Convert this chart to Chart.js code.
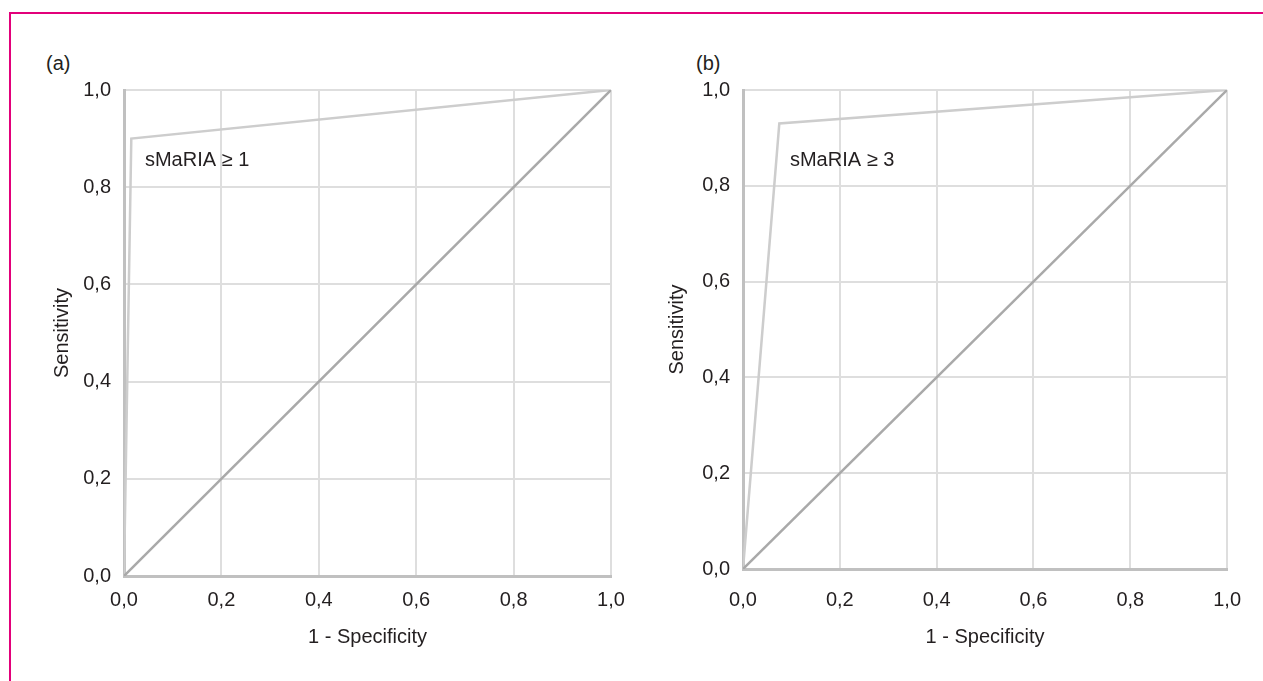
<!DOCTYPE html>
<html>
<head>
<meta charset="utf-8">
<script src="https://cdn.jsdelivr.net/npm/chart.js@4.4.1/dist/chart.umd.min.js"></script>
<style>
  html, body { margin: 0; padding: 0; background: #fff; }
  body { width: 1263px; height: 681px; position: relative; overflow: hidden; font-family: "Liberation Sans", Arial, Helvetica, sans-serif; color: #231f20; }
  .frame { position: absolute; left: 9px; top: 12px; width: 1300px; height: 700px; border-top: 2px solid #e2007a; border-left: 2px solid #e2007a; }
  .panel-label { position: absolute; font-size: 20px; }
  canvas { position: absolute; }
</style>
</head>
<body>
<div class="frame"></div>
<div class="panel-label" style="left:46px; top:52px;">(a)</div>
<div class="panel-label" style="left:696px; top:52px;">(b)</div>
<canvas id="chartA" width="620" height="600" style="left:20px; top:65px;"></canvas>
<canvas id="chartB" width="610" height="600" style="left:650px; top:65px;"></canvas>
<script>
// axis ticks (both panels)
const tickValues = [0, 0.2, 0.4, 0.6, 0.8, 1.0]

// panel (a): sMaRIA >= 1
const rocA_x = [0, 0.015, 1]
const rocA_y = [0, 0.90, 1]
const labelA = 'sMaRIA \u2265 1'

// panel (b): sMaRIA >= 3
const rocB_x = [0, 0.075, 1]
const rocB_y = [0, 0.93, 1]
const labelB = 'sMaRIA \u2265 3'

// reference line
const diag_x = [0, 1]
const diag_y = [0, 1]

const FONT = '"Liberation Sans", Arial, Helvetica, sans-serif'
const TEXT = '#231f20'
const SIZE = 20

function toPoints(xs, ys) {
  return xs.map((x, i) => ({ x: x, y: ys[i] }))
}

function fmt(v) {
  return v.toFixed(1).replace('.', ',')
}

// draws the cut-off label inside the plot
const cutoffLabel = {
  id: 'cutoffLabel',
  afterDatasetsDraw(chart, args, opts) {
    const ctx = chart.ctx
    const x = chart.scales.x.getPixelForValue(opts.x)
    const y = chart.scales.y.getPixelForValue(opts.y)
    ctx.save()
    ctx.font = SIZE + 'px ' + FONT
    ctx.fillStyle = TEXT
    ctx.textAlign = 'left'
    ctx.textBaseline = 'middle'
    ctx.fillText(opts.text, x, y)
    ctx.restore()
  }
}

function makeChart(id, rx, ry, cfg) {
  const ctx = document.getElementById(id)
  return new Chart(ctx, {
    type: 'line',
    data: {
      datasets: [
        {
          data: toPoints(diag_x, diag_y),
          borderColor: '#a9a9a9',
          borderWidth: 2.5,
          pointRadius: 0,
          tension: 0
        },
        {
          data: toPoints(rx, ry),
          borderColor: '#cdcdcd',
          borderWidth: 2.5,
          pointRadius: 0,
          tension: 0
        }
      ]
    },
    options: {
      responsive: false,
      animation: false,
      devicePixelRatio: 1,
      layout: { padding: { left: 0, top: 10, right: cfg.padRight, bottom: 0 } },
      plugins: {
        legend: { display: false },
        tooltip: { enabled: false },
        cutoffLabel: cfg.label
      },
      scales: {
        x: {
          type: 'linear',
          min: 0,
          max: 1,
          afterFit: s => { s.height = cfg.xHeight },
          afterBuildTicks: s => { s.ticks = tickValues.map(v => ({ value: v })) },
          ticks: {
            callback: v => fmt(v),
            color: TEXT,
            padding: cfg.xTickPad,
            maxRotation: 0,
            font: { family: FONT, size: SIZE }
          },
          grid: { color: '#dedede', lineWidth: 2, drawTicks: false },
          border: { color: '#c0c0c0', width: 3 },
          title: {
            display: true,
            text: '1 - Specificity',
            color: TEXT,
            font: { family: FONT, size: SIZE },
            padding: { top: 0, bottom: 16 }
          }
        },
        y: {
          type: 'linear',
          min: 0,
          max: 1,
          afterFit: s => { s.width = cfg.yWidth },
          afterBuildTicks: s => { s.ticks = tickValues.map(v => ({ value: v })) },
          ticks: {
            callback: v => fmt(v),
            color: TEXT,
            padding: 13,
            font: { family: FONT, size: SIZE }
          },
          grid: { color: '#dedede', lineWidth: 2, drawTicks: false },
          border: { color: '#c0c0c0', width: 3 },
          title: {
            display: true,
            text: 'Sensitivity',
            color: TEXT,
            font: { family: FONT, size: SIZE },
            padding: { top: cfg.yTitlePad, bottom: 0 }
          }
        }
      }
    },
    plugins: [cutoffLabel]
  })
}

makeChart('chartA', rocA_x, rocA_y, {
  padRight: 29, xHeight: 89, yWidth: 104, xTickPad: 12, yTitlePad: 30,
  label: { x: 0.043, y: 0.854, text: labelA }
})

makeChart('chartB', rocB_x, rocB_y, {
  padRight: 23, xHeight: 96, yWidth: 93, xTickPad: 19, yTitlePad: 15,
  label: { x: 0.097, y: 0.852, text: labelB }
})
</script>
</body>
</html>
